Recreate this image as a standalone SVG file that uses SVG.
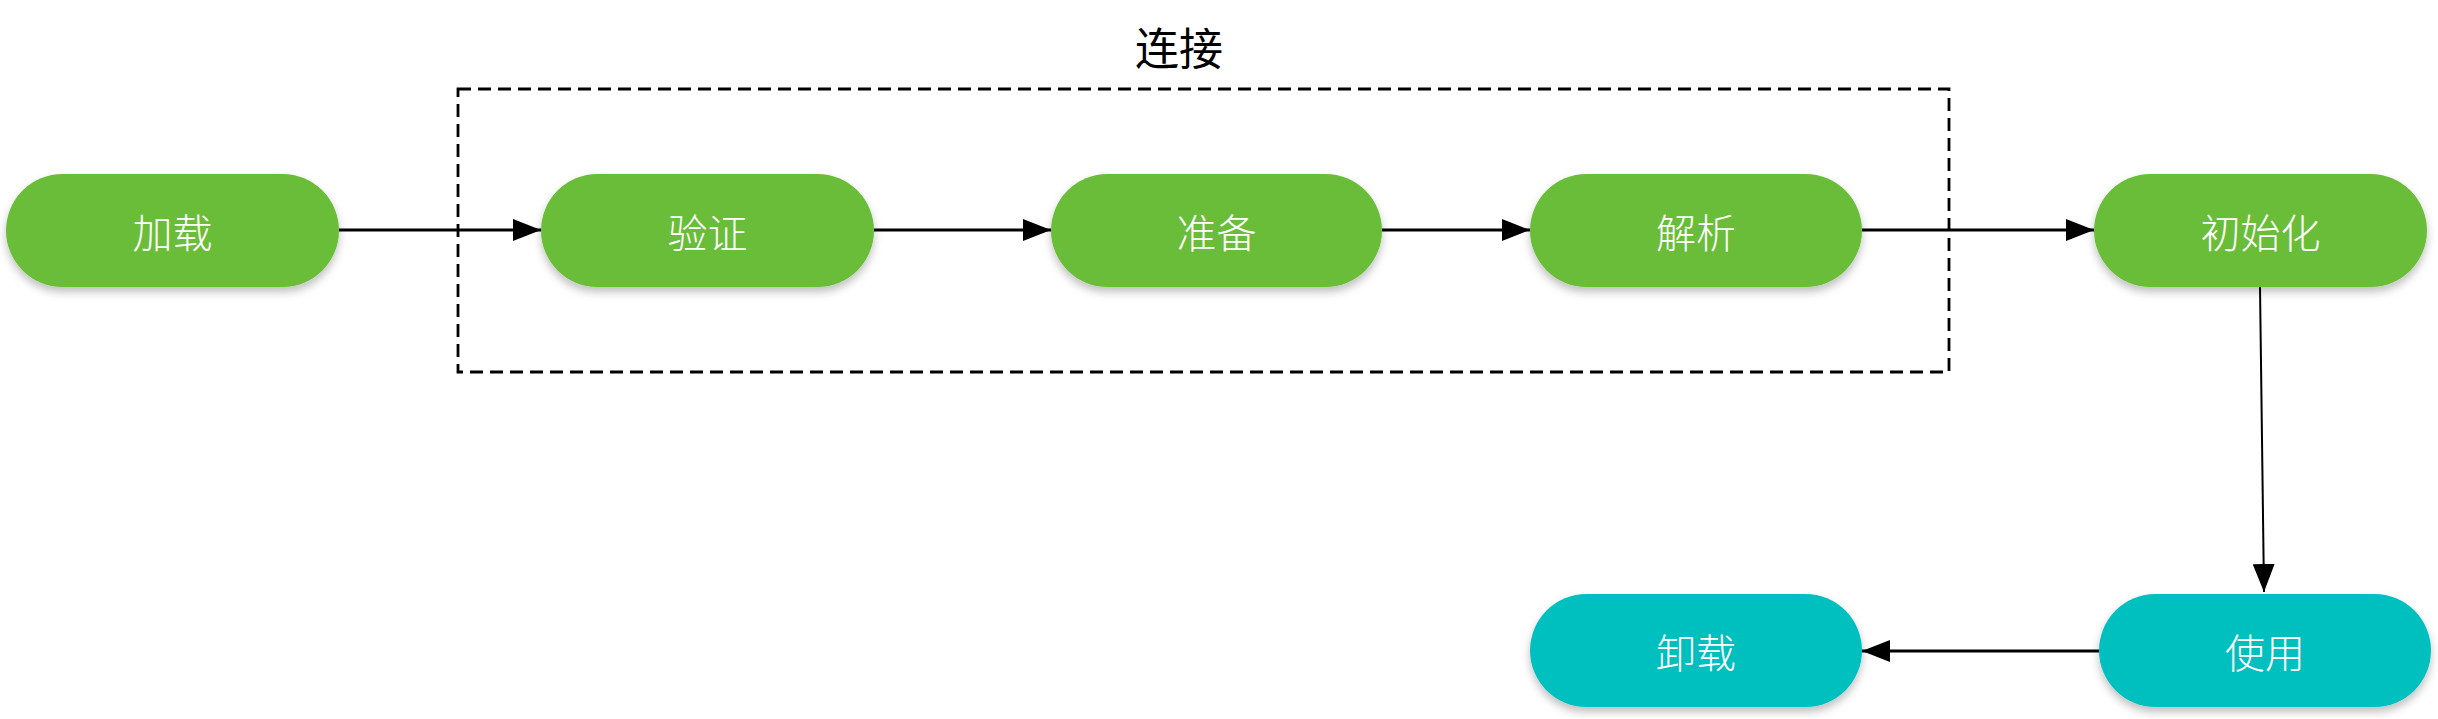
<svg xmlns="http://www.w3.org/2000/svg" width="2438" height="719" viewBox="0 0 2438 719">
<style>
.green{fill:#6abd38}
.teal{fill:#01bfbf}
.lbl{font-family:"Noto Sans CJK SC","Noto Sans",sans-serif;font-size:40px;font-weight:300;fill:#ffffff;text-anchor:middle;dominant-baseline:central}
.title{font-family:"Noto Sans CJK SC","Noto Sans",sans-serif;font-size:44px;fill:#000000;text-anchor:middle;dominant-baseline:central}
.edge{stroke:#000;stroke-width:2.8;fill:none}
.thin{stroke:#000;stroke-width:2;fill:none}
</style>
<defs>
<filter id="sh" x="-10%" y="-20%" width="120%" height="150%">
<feDropShadow dx="0" dy="5" stdDeviation="4" flood-color="#000" flood-opacity="0.25"/>
</filter>
<marker id="arr" markerUnits="userSpaceOnUse" markerWidth="30" markerHeight="22" refX="28" refY="11" orient="auto">
<path d="M0,0 L28,11 L0,22 Z" fill="#000"/>
</marker>
</defs>
<g id="group-connect">
<rect x="458" y="89" width="1491" height="283" fill="none" stroke="#000" stroke-width="2.8" stroke-dasharray="13,7"/>
<text class="title" x="1179" y="46">连接</text>
</g>
<g id="connectors">
<line class="edge" x1="339" y1="230" x2="541" y2="230" marker-end="url(#arr)"/>
<line class="edge" x1="874" y1="230" x2="1051" y2="230" marker-end="url(#arr)"/>
<line class="edge" x1="1382" y1="230" x2="1530" y2="230" marker-end="url(#arr)"/>
<line class="edge" x1="1862" y1="230" x2="2094" y2="230" marker-end="url(#arr)"/>
<line class="thin" x1="2260" y1="287" x2="2264" y2="592" marker-end="url(#arr)"/>
<line class="edge" x1="2099" y1="651" x2="1862" y2="651" marker-end="url(#arr)"/>
</g>
<g id="node-load">
<rect class="green" x="6" y="174" width="333" height="113" rx="56.5" filter="url(#sh)"/>
<text class="lbl" x="172.5" y="230.5">加载</text>
</g>
<g id="node-verify">
<rect class="green" x="541" y="174" width="333" height="113" rx="56.5" filter="url(#sh)"/>
<text class="lbl" x="707.5" y="230.5">验证</text>
</g>
<g id="node-prepare">
<rect class="green" x="1051" y="174" width="331" height="113" rx="56.5" filter="url(#sh)"/>
<text class="lbl" x="1216.5" y="230.5">准备</text>
</g>
<g id="node-resolve">
<rect class="green" x="1530" y="174" width="332" height="113" rx="56.5" filter="url(#sh)"/>
<text class="lbl" x="1696" y="230.5">解析</text>
</g>
<g id="node-init">
<rect class="green" x="2094" y="174" width="333" height="113" rx="56.5" filter="url(#sh)"/>
<text class="lbl" x="2260.5" y="230.5">初始化</text>
</g>
<g id="node-use">
<rect class="teal" x="2099" y="594" width="332" height="113" rx="56.5" filter="url(#sh)"/>
<text class="lbl" x="2265" y="650.5">使用</text>
</g>
<g id="node-unload">
<rect class="teal" x="1530" y="594" width="332" height="113" rx="56.5" filter="url(#sh)"/>
<text class="lbl" x="1696" y="650.5">卸载</text>
</g>
</svg>
